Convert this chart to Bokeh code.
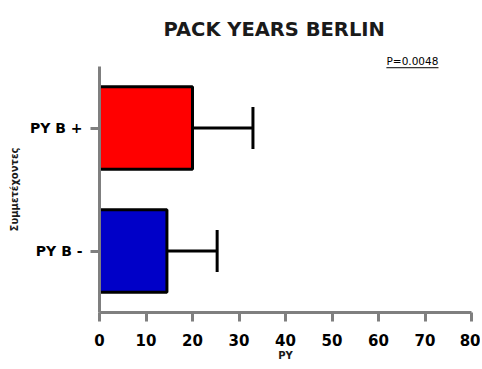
from bokeh.plotting import figure
from bokeh.models import ColumnDataSource, Whisker, TeeHead, Title, FactorRange, FixedTicker
from bokeh.embed import file_html
from bokeh.resources import INLINE

# Data
groups = ["PY B -", "PY B +"]
means = [14.5, 20.0]
sds = [10.8, 13.0]
colors = ["#0000c8", "#ff0000"]
x_ticks = [0, 10, 20, 30, 40, 50, 60, 70, 80]
title_text = "PACK YEARS BERLIN"
p_text = "P=0.0048"

upper = [m + s for m, s in zip(means, sds)]
src = ColumnDataSource(dict(g=groups, m=means, u=upper, c=colors))

p = figure(width=480, height=366, y_range=FactorRange(factors=groups),
           x_range=(0, 80), output_backend="svg", toolbar_location=None,
           min_border_left=99, min_border_right=9, min_border_top=66,
           min_border_bottom=54)
p.outline_line_color = None
p.xgrid.visible = False
p.ygrid.visible = False

p.hbar(y="g", left=0, right="m", height=0.67, fill_color="c",
       line_color="black", line_width=3, source=src)

w = Whisker(base="g", lower="m", upper="u", dimension="width", source=src,
            line_color="black", line_width=3, lower_head=None,
            upper_head=TeeHead(size=42, line_width=3, line_color="black"))
p.add_layout(w)

pt = Title(text=p_text, align="left", offset=287, standoff=0,
           text_font="DejaVu Sans", text_font_style="normal",
           text_font_size="10.5px", text_color="black")
p.add_layout(pt, "above")

t = Title(text=title_text, align="left", offset=64, standoff=24,
          text_font="DejaVu Sans", text_font_style="bold",
          text_font_size="19.5px", text_color="#1a1a1a")
p.add_layout(t, "above")

p.segment(x0=[61.7], x1=[72.9], y0=[1.99], y1=[1.99], line_color="black", line_width=1)

for ax in (p.xaxis[0], p.yaxis[0]):
    ax.axis_line_color = "#7f7f7f"
    ax.axis_line_width = 3
    ax.major_tick_line_color = "#7f7f7f"
    ax.major_tick_line_width = 3
    ax.major_tick_in = 0
    ax.major_tick_out = 9
    ax.minor_tick_line_color = None
    ax.major_label_text_font = "DejaVu Sans"
    ax.major_label_text_font_style = "bold"
    ax.major_label_text_color = "black"
    ax.axis_label_text_font = "DejaVu Sans"
    ax.axis_label_text_font_style = "bold"
    ax.axis_label_text_font_size = "10px"
    ax.axis_label_text_color = "#1a1a1a"

p.xaxis.ticker = FixedTicker(ticks=x_ticks)
p.xaxis.major_label_text_font_size = "15px"
p.xaxis.major_label_standoff = 12
p.xaxis.axis_label = "PY"
p.xaxis.axis_label_standoff = 1

p.yaxis.major_label_text_font_size = "14px"
p.yaxis.major_label_standoff = 8
p.yaxis.axis_label = "Συμμετέχοντες"
p.yaxis.axis_label_standoff = 7

open("out.html", "w").write(file_html(p, INLINE))
